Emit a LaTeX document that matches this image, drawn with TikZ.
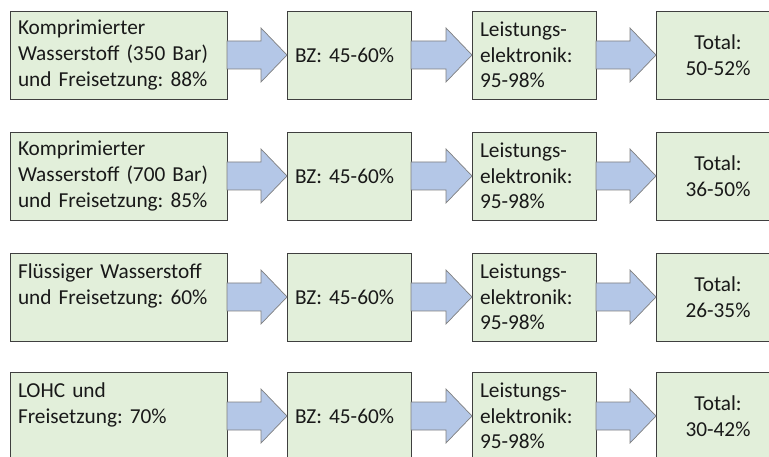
\documentclass[tikz,border=0pt]{standalone}
\usepackage{fontspec}
\setmainfont{Carlito}
\usetikzlibrary{positioning,calc}
\frenchspacing

\definecolor{boxgreen}{HTML}{E2EFDA}
\definecolor{boxline}{HTML}{3F3F3F}
\definecolor{arrowblue}{HTML}{B4C7E7}
\definecolor{arrowline}{HTML}{7F7F7F}

% block arrow from the east side of #1 to the west side of #2
\newcommand{\flowarrow}[2]{%
  \draw[flow] let \p1=(#1.east), \p2=(#2.west) in
    (\x1,{\y1+14pt}) -- ({\x2-26pt},{\y1+14pt}) -- ({\x2-26pt},{\y1+27pt}) -- (\x2,\y1)
    -- ({\x2-26pt},{\y1-27pt}) -- ({\x2-26pt},{\y1-14pt}) -- (\x1,{\y1-14pt}) -- cycle;}

\begin{document}
\begin{tikzpicture}[
  font=\fontsize{21.3pt}{25.6pt}\selectfont,
  text=black!90,
  node distance=60pt and 33pt,
  box/.style={draw=boxline, line width=0.9pt, fill=boxgreen, minimum height=88pt, inner xsep=8pt, inner ysep=4pt, outer sep=0pt},
  src/.style={box, text width=201pt, align=left},
  stage/.style={box, text width=108pt, align=left},
  total/.style={box, text width=108pt, align=center},
  flow/.style={draw=arrowline, line width=0.7pt, fill=arrowblue},
]
\useasboundingbox (0,0) rectangle (769pt,-457pt);

% Row 1: 350 bar
\node[src, anchor=north west] (src1) at (10pt,-11pt) {Komprimierter\\Wasserstoff (350 Bar)\\und Freisetzung: 88\%};
\node[stage, right=60pt of src1] (bz1) {BZ: 45-60\%};
\node[stage, right=61pt of bz1] (le1) {Leistungs-\\elektronik:\\95-98\%};
\node[total, right=60pt of le1] (tot1) {Total:\\50-52\%};

% Row 2: 700 bar
\node[src, below=33pt of src1] (src2) {Komprimierter\\Wasserstoff (700 Bar)\\und Freisetzung: 85\%};
\node[stage, right=60pt of src2] (bz2) {BZ: 45-60\%};
\node[stage, right=61pt of bz2] (le2) {Leistungs-\\elektronik:\\95-98\%};
\node[total, right=60pt of le2] (tot2) {Total:\\36-50\%};

% Row 3: liquid
\node[src, below=33pt of src2] (src3) {Flüssiger Wasserstoff\\und Freisetzung: 60\%\\\mbox{}};
\node[stage, right=60pt of src3] (bz3) {BZ: 45-60\%};
\node[stage, right=61pt of bz3] (le3) {Leistungs-\\elektronik:\\95-98\%};
\node[total, right=60pt of le3] (tot3) {Total:\\26-35\%};

% Row 4: LOHC
\node[src, below=31pt of src3] (src4) {LOHC und\\Freisetzung: 70\%\\\mbox{}};
\node[stage, right=60pt of src4] (bz4) {BZ: 45-60\%};
\node[stage, right=61pt of bz4] (le4) {Leistungs-\\elektronik:\\95-98\%};
\node[total, right=60pt of le4] (tot4) {Total:\\30-42\%};

% Arrows
\flowarrow{src1}{bz1} \flowarrow{bz1}{le1} \flowarrow{le1}{tot1}
\flowarrow{src2}{bz2} \flowarrow{bz2}{le2} \flowarrow{le2}{tot2}
\flowarrow{src3}{bz3} \flowarrow{bz3}{le3} \flowarrow{le3}{tot3}
\flowarrow{src4}{bz4} \flowarrow{bz4}{le4} \flowarrow{le4}{tot4}
\end{tikzpicture}
\end{document}
